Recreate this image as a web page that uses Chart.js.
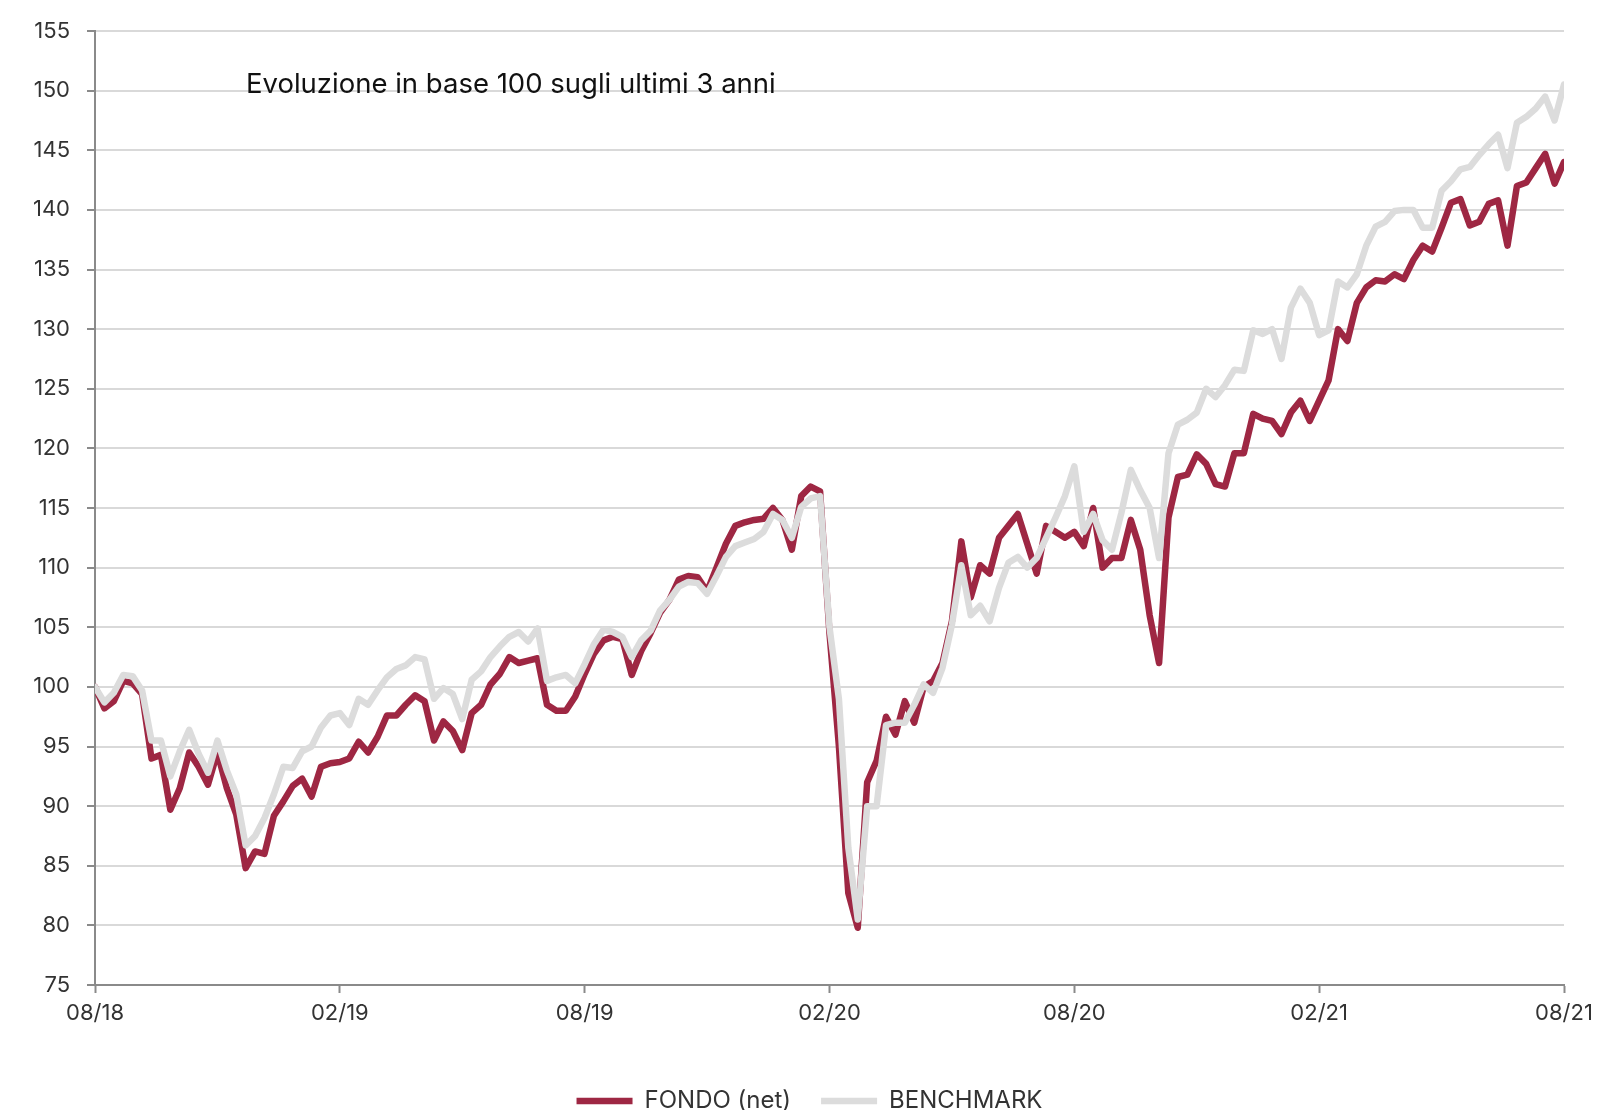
<!DOCTYPE html>
<html>
<head>
<meta charset="utf-8">
<title>Evoluzione in base 100</title>
<script src="https://cdn.jsdelivr.net/npm/chart.js@4/dist/chart.umd.min.js"></script>
<style>
  html, body { margin: 0; padding: 0; background: #fff; }
  #wrap { width: 1616px; height: 1110px; }
</style>
</head>
<body>
<div id="wrap"><canvas id="chart" width="1616" height="1110"></canvas></div>
<script>
// weekly values, base 100 (week 0 = 08/18, week 156 = 08/21)
const FONDO = [
  100, 98.2, 98.8, 100.5, 100.3, 99.4, 94.0, 94.3, 89.7, 91.5,
  94.5, 93.3, 91.8, 94.5, 91.5, 89.3, 84.8, 86.2, 86.0, 89.2,
  90.4, 91.7, 92.3, 90.8, 93.3, 93.6, 93.7, 94.0, 95.4, 94.5,
  95.8, 97.6, 97.6, 98.5, 99.3, 98.8, 95.5, 97.1, 96.3, 94.7,
  97.8, 98.5, 100.2, 101.1, 102.5, 102.0, 102.2, 102.4, 98.5, 98.0,
  98.0, 99.2, 101.1, 102.8, 103.9, 104.2, 104.0, 101.0, 103.0, 104.5,
  106.2, 107.3, 109.0, 109.3, 109.2, 108.0, 110.0, 112.0, 113.5, 113.8,
  114.0, 114.1, 115.0, 114.0, 111.5, 116.0, 116.8, 116.4, 104.5, 95.0,
  82.7, 79.8, 92.0, 93.8, 97.5, 96.0, 98.8, 97.0, 100.0, 100.5,
  102.0, 105.5, 112.2, 107.5, 110.2, 109.5, 112.5, 113.5, 114.5, 112.0,
  109.5, 113.5, 113.0, 112.5, 113.0, 111.8, 115.0, 110.0, 110.8, 110.8,
  114.0, 111.5, 106.0, 102.0, 114.2, 117.6, 117.8, 119.5, 118.7, 117.0,
  116.8, 119.6, 119.6, 122.9, 122.5, 122.3, 121.2, 123.0, 124.0, 122.3,
  124.0, 125.7, 130.0, 129.0, 132.2, 133.5, 134.1, 134.0, 134.6, 134.2,
  135.8, 137.0, 136.5, 138.5, 140.6, 140.9, 138.7, 139.0, 140.5, 140.8,
  137.0, 142.0, 142.3, 143.5, 144.7, 142.2, 144.0
];
const BENCHMARK = [
  100, 98.7, 99.5, 101.0, 100.9, 99.7, 95.5, 95.5, 92.5, 94.6,
  96.4, 94.4, 92.8, 95.5, 93.0, 91.0, 86.7, 87.5, 89.0, 91.0,
  93.3, 93.2, 94.6, 95.0, 96.6, 97.6, 97.8, 96.8, 99.0, 98.5,
  99.7, 100.8, 101.5, 101.8, 102.5, 102.3, 99.0, 99.9, 99.4, 97.3,
  100.6, 101.3, 102.5, 103.4, 104.2, 104.6, 103.8, 104.9, 100.5, 100.8,
  101.0, 100.3, 101.9, 103.6, 104.8, 104.6, 104.2, 102.5, 103.9, 104.7,
  106.4, 107.3, 108.4, 108.8, 108.7, 107.8, 109.3, 110.9, 111.8, 112.1,
  112.4, 113.0, 114.5, 114.0, 112.5, 115.1, 115.8, 116.0, 105.0, 99.0,
  86.5, 80.5, 90.0, 90.0, 96.8, 97.0, 97.0, 98.5, 100.2, 99.5,
  101.6, 105.2, 110.2, 106.0, 106.8, 105.5, 108.3, 110.4, 110.9, 110.0,
  110.8, 112.5, 114.2, 116.0, 118.5, 113.0, 114.5, 112.3, 111.5, 114.6,
  118.2, 116.5, 115.0, 110.8, 119.6, 122.0, 122.4, 123.0, 125.0, 124.3,
  125.3, 126.6, 126.5, 129.9, 129.6, 130.0, 127.5, 131.8, 133.4, 132.2,
  129.5, 129.9, 134.0, 133.5, 134.6, 137.0, 138.6, 139.0, 139.9, 140.0,
  140.0, 138.5, 138.5, 141.6, 142.4, 143.4, 143.6, 144.6, 145.5, 146.3,
  143.5, 147.3, 147.8, 148.5, 149.5, 147.5, 150.5
];
const TICK_WEEKS = [0, 26, 52, 78, 104, 130, 156];
const TICK_LABELS = ["08/18", "02/19", "08/19", "02/20", "08/20", "02/21", "08/21"];
const TITLE = "Evoluzione in base 100 sugli ultimi 3 anni";

const RED = "#9e2743";
const GREY = "#dcdcdc";
const AXIS = "#8a8a8a";
const FONT = "Inter, 'Noto Sans', sans-serif";

const toPoints = arr => arr.map((v, i) => ({ x: i, y: v }));

// title drawn inside the plot area, top left
const titlePlugin = {
  id: "innerTitle",
  afterDraw(chart) {
    const { ctx, chartArea } = chart;
    ctx.save();
    ctx.font = "27.5px " + FONT;
    ctx.fillStyle = "#111";
    ctx.textBaseline = "middle";
    ctx.fillText(TITLE, chartArea.left + 151, chartArea.top + 54);
    ctx.restore();
  }
};

// nudge the legend a bit to the left, like the original
const legendShift = {
  id: "legendShift",
  afterLayout(chart) {
    const lg = chart.legend;
    if (!lg) return;
    lg.left -= 20;
    lg.right -= 20;
  }
};

new Chart(document.getElementById("chart"), {
  type: "line",
  data: {
    datasets: [
      {
        label: "FONDO (net)",
        data: toPoints(FONDO),
        borderColor: RED,
        backgroundColor: RED,
        borderWidth: 6.5,
        pointRadius: 0,
        tension: 0,
        borderJoinStyle: "round",
        borderCapStyle: "round",
        order: 1
      },
      {
        label: "BENCHMARK",
        data: toPoints(BENCHMARK),
        borderColor: GREY,
        backgroundColor: GREY,
        borderWidth: 6.5,
        pointRadius: 0,
        tension: 0,
        borderJoinStyle: "round",
        borderCapStyle: "round",
        order: 0
      }
    ]
  },
  options: {
    responsive: false,
    animation: false,
    devicePixelRatio: 1,
    layout: { padding: { top: 31, right: 52, left: 0, bottom: -13 } },
    plugins: {
      tooltip: { enabled: false },
      legend: {
        position: "bottom",
        fullSize: false,
        labels: {
          usePointStyle: true,
          pointStyleWidth: 56,
          pointStyle: "line",
          padding: 30,
          color: "#333",
          font: { family: FONT, size: 24 },
          sort: (a, b) => a.datasetIndex - b.datasetIndex
        }
      }
    },
    scales: {
      x: {
        type: "linear",
        min: 0,
        max: 156,
        afterBuildTicks: s => { s.ticks = TICK_WEEKS.map(v => ({ value: v })); },
        afterFit: s => { s.height = 74; },
        ticks: {
          color: "#333",
          padding: 7,
          maxRotation: 0,
          font: { family: FONT, size: 22 },
          callback: v => TICK_LABELS[TICK_WEEKS.indexOf(v)]
        },
        grid: { drawOnChartArea: false, tickLength: 8, tickColor: AXIS, tickWidth: 2 },
        border: { color: AXIS, width: 2 }
      },
      y: {
        min: 75,
        max: 155,
        afterFit: s => { s.width = 95; },
        ticks: {
          stepSize: 5,
          color: "#333",
          padding: 17,
          font: { family: FONT, size: 22 }
        },
        grid: { color: "#d9d9d9", lineWidth: 2, tickLength: 8, tickColor: AXIS, tickWidth: 2 },
        border: { color: AXIS, width: 2 }
      }
    }
  },
  plugins: [titlePlugin, legendShift]
});
</script>
</body>
</html>
